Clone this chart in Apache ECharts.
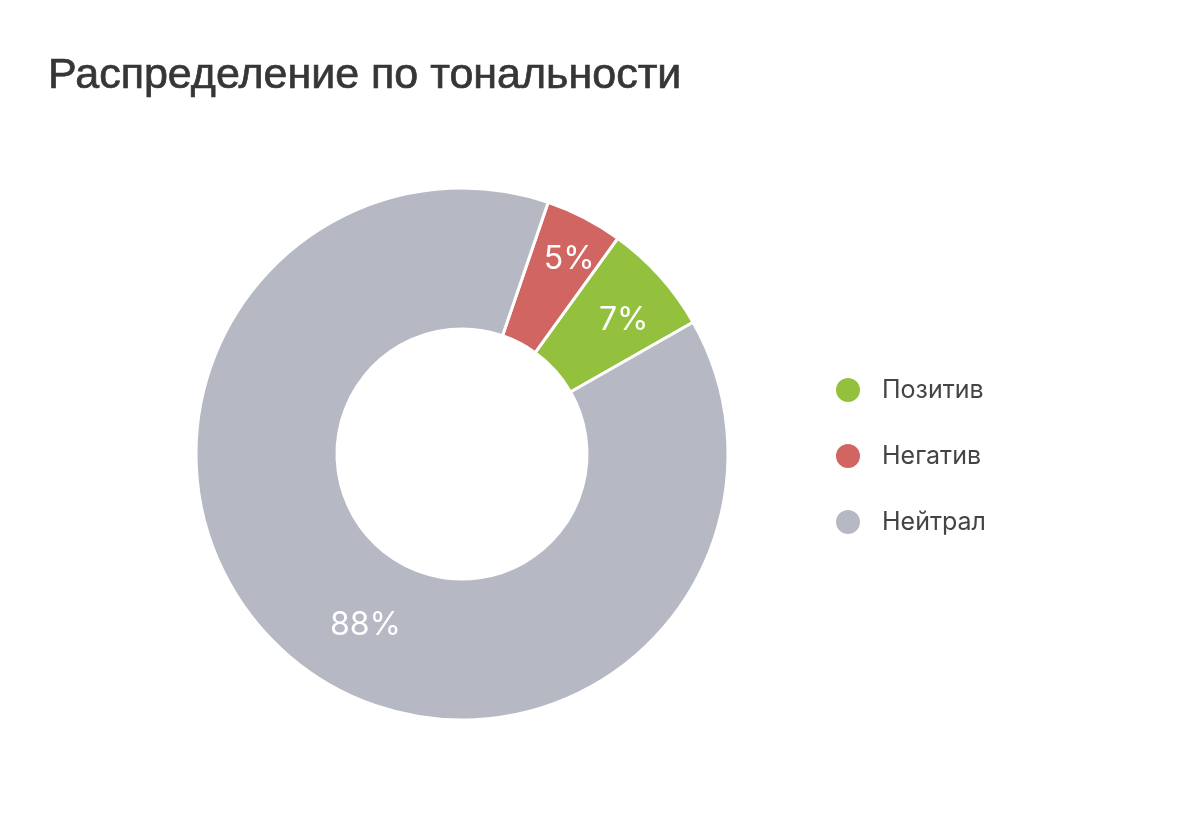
<!DOCTYPE html>
<html>
<head>
<meta charset="utf-8">
<script src="https://cdn.jsdelivr.net/npm/echarts@6/dist/echarts.min.js"></script>
<style>
html,body{margin:0;padding:0;background:#fff;}
#chart{width:1184px;height:840px;}
</style>
</head>
<body>
<div id="chart"></div>
<script>
const titleText = 'Распределение по тональности';
const categories = ['Позитив', 'Негатив', 'Нейтрал'];
const values = [6.8, 4.7, 88.5];
const colors = ['#93c13e', '#d06561', '#b6b9c3'];
const labelOffsets = [[14, -1], [16, -18], [30, 18]];

const chart = echarts.init(document.getElementById('chart'));
chart.setOption({
  backgroundColor: '#ffffff',
  animation: false,
  title: {
    text: titleText,
    left: 43,
    top: 50,
    textStyle: {
      fontFamily: 'Liberation Sans',
      fontSize: 43,
      fontWeight: 'normal',
      color: '#363636',
      textBorderColor: '#363636',
      textBorderWidth: 0.7
    }
  },
  legend: {
    orient: 'vertical',
    left: 829,
    top: 371,
    icon: 'circle',
    itemWidth: 26,
    itemHeight: 26,
    itemGap: 38,
    data: categories,
    textStyle: {
      fontFamily: 'Inter',
      fontSize: 25,
      lineHeight: 26,
      color: '#444444',
      padding: [0, 0, 0, 16]
    }
  },
  series: [{
    type: 'pie',
    center: [462, 454],
    radius: [125, 266],
    startAngle: 29.7,
    clockwise: false,
    percentPrecision: 0,
    avoidLabelOverlap: false,
    itemStyle: { borderColor: '#ffffff', borderWidth: 3 },
    label: {
      show: true,
      position: 'inside',
      formatter: '{d}%',
      color: '#ffffff',
      fontFamily: 'Inter',
      fontSize: 32,
      fontWeight: 'normal'
    },
    labelLine: { show: false },
    emphasis: { disabled: true },
    data: categories.map((c, i) => ({
      name: c,
      value: values[i],
      itemStyle: { color: colors[i] },
      label: { offset: labelOffsets[i] }
    }))
  }]
});
</script>
</body>
</html>
